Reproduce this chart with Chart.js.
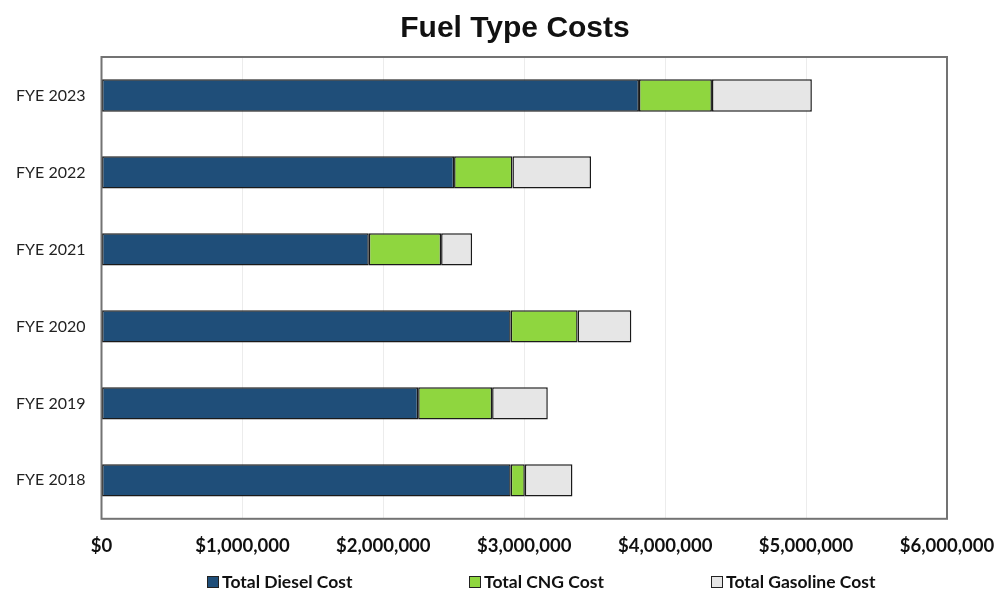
<!DOCTYPE html>
<html>
<head>
<meta charset="utf-8">
<script src="https://cdn.jsdelivr.net/npm/chart.js@4"></script>
<style>
  html, body { margin: 0; padding: 0; background: #fff; }
  #wrap { position: relative; width: 1001px; height: 594px; }
  #title {
    position: absolute; left: 30px; width: 970px; top: 10px; line-height: 36px;
    text-align: center; font: bold 30px 'Liberation Sans', Arial, sans-serif; color: #111;
  }
  .legend-item {
    position: absolute; top: 571px; display: flex; align-items: center;
    font: bold 17.5px Lato, 'DejaVu Sans Condensed', sans-serif; color: #111;
  }
  .legend-box { width: 10px; height: 10px; border: 1px solid #222; margin-right: 3px; }
</style>
</head>
<body>
<div id="wrap">
  <canvas id="fuelChart" width="1001" height="594"></canvas>
  <div id="title">Fuel Type Costs</div>
  <div id="legend"></div>
</div>
<script>
// ---- DATA ----
const years = ['FYE 2023', 'FYE 2022', 'FYE 2021', 'FYE 2020', 'FYE 2019', 'FYE 2018'];
const dieselCost   = [3814000, 2502000, 1897000, 2904000, 2247000, 2904000];
const cngCost      = [518000, 414000, 513000, 475000, 525000, 100000];
const gasolineCost = [709000, 558000, 220000, 381000, 395000, 338000];
const xTicks = [0, 1000000, 2000000, 3000000, 4000000, 5000000, 6000000];

const money = v => '$' + Number(v).toLocaleString('en-US');

// frame around the plot area
const frame = {
  id: 'frame',
  afterDatasetsDraw(c) {
    const a = c.chartArea, ctx = c.ctx;
    ctx.save();
    ctx.strokeStyle = '#737373';
    ctx.lineWidth = 2;
    ctx.strokeRect(a.left, a.top, a.right - a.left, a.bottom - a.top);
    ctx.restore();
  }
};

const barBase = { borderColor: '#1a1a1a', borderWidth: 1.5, borderSkipped: false, barPercentage: 0.84, categoryPercentage: 0.5 };

const chart = new Chart(document.getElementById('fuelChart'), {
  type: 'bar',
  data: {
    labels: years,
    datasets: [
      { ...barBase, label: 'Total Diesel Cost',   data: dieselCost,   backgroundColor: '#1f4e79' },
      { ...barBase, label: 'Total CNG Cost',      data: cngCost,      backgroundColor: '#8fd63f' },
      { ...barBase, label: 'Total Gasoline Cost', data: gasolineCost, backgroundColor: '#e6e6e6' },
    ]
  },
  options: {
    indexAxis: 'y',
    responsive: false,
    animation: false,
    layout: { padding: { left: 0, right: 54, top: 57, bottom: 21 } },
    plugins: {
      title: { display: false },
      legend: { display: false },
      tooltip: { callbacks: { label: ctx => ` ${ctx.dataset.label}: ${money(ctx.parsed.x)}` } }
    },
    scales: {
      x: {
        stacked: true,
        min: 0, max: 6000000,
        afterBuildTicks: s => { s.ticks = xTicks.map(v => ({ value: v })); },
        afterFit: s => { s.paddingRight = 0; s.paddingLeft = 0; },
        ticks: { color: '#111', font: { family: "Lato, 'DejaVu Sans Condensed', sans-serif", size: 18.5, weight: 'bold' }, padding: 16, maxRotation: 0, callback: v => money(v) },
        grid: { color: '#ececec', drawTicks: false },
        border: { display: false }
      },
      y: {
        stacked: true,
        afterFit: s => { s.width = 101.5; },
        ticks: { color: '#222', font: { family: "Lato, 'DejaVu Sans Condensed', sans-serif", size: 16 }, padding: 16 },
        grid: { display: false, drawTicks: false },
        border: { display: false }
      }
    }
  },
  plugins: [frame]
});

// ---- LEGEND ----
const legendLeft = [207, 469, 711];
document.getElementById('legend').innerHTML = chart.data.datasets.map((d, i) =>
  `<div class="legend-item" style="left:${legendLeft[i]}px">
     <span class="legend-box" style="background:${d.backgroundColor}"></span>${d.label}
   </div>`).join('');
</script>
</body>
</html>
